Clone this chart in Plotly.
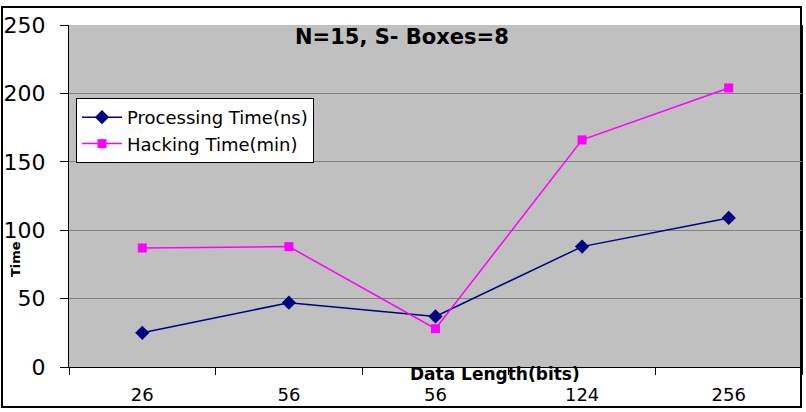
import plotly.graph_objects as go

categories = ["26", "56", "56", "124", "256"]
processing_time = [25, 47, 37, 88, 109]
hacking_time = [87, 88, 28, 166, 204]
y_ticks = [0, 50, 100, 150, 200, 250]

x_pos = list(range(len(categories)))
boundaries = [i - 0.5 for i in range(len(categories) + 1)]

FONT = "DejaVu Sans, Liberation Sans, Arial, sans-serif"

fig = go.Figure()
fig.add_trace(go.Scatter(
    x=x_pos, y=processing_time, name="Processing Time(ns)", mode="lines+markers",
    line=dict(color="#000080", width=1.5),
    marker=dict(symbol="diamond", size=11, color="#000080"),
))
fig.add_trace(go.Scatter(
    x=x_pos, y=hacking_time, name="Hacking Time(min)", mode="lines+markers",
    line=dict(color="#FF00FF", width=1.5),
    marker=dict(symbol="square", size=9, color="#FF00FF"),
))

L, R, T, B = 69, 4, 25, 45
W, H = 806, 412
pw, ph = W - L - R, H - T - B

def px(x):
    return (x - L) / pw

def py(y):
    return (H - B - y) / ph

fig.update_layout(
    width=W, height=H,
    margin=dict(l=L, r=R, t=T, b=B),
    paper_bgcolor="white", plot_bgcolor="#C0C0C0",
    font=dict(family=FONT, color="black"),
    showlegend=True,
    legend=dict(
        x=px(76), y=py(98), xanchor="left", yanchor="top",
        bgcolor="white", bordercolor="black", borderwidth=1,
        font=dict(size=18, family=FONT), tracegroupgap=0,
        itemwidth=40,
    ),
    xaxis=dict(
        range=[-0.5, len(categories) - 0.5],
        tickmode="array", tickvals=x_pos, ticktext=categories,
        ticks="", tickfont=dict(size=18, family=FONT),
        showgrid=False, zeroline=False,
        showline=True, linecolor="black", linewidth=1,
        minor=dict(tickmode="array", tickvals=boundaries, ticks="outside",
                   ticklen=7, tickcolor="black", showgrid=False),
        ticklabelstandoff=11,
    ),
    yaxis=dict(
        range=[0, 250], tickmode="array", tickvals=y_ticks,
        ticks="outside", ticklen=8, tickcolor="black",
        tickfont=dict(size=22, family=FONT),
        showgrid=True, gridcolor="#808080", gridwidth=1,
        zeroline=False, showline=True, linecolor="black", linewidth=1,
        mirror=True, ticklabelstandoff=10,
    ),
    annotations=[
        dict(text="<b>N=15, S- Boxes=8</b>", x=px(402), y=py(37),
             xanchor="center", yanchor="middle",
             xref="paper", yref="paper", showarrow=False,
             font=dict(size=21, family=FONT)),
        dict(text="<b>Data Length(bits)</b>", x=px(495), y=py(374),
             xanchor="center", yanchor="middle",
             xref="paper", yref="paper", showarrow=False,
             font=dict(size=17, family=FONT)),
        dict(text="<b>Time</b>", x=px(15), y=py(259), textangle=-90,
             xanchor="center", yanchor="middle",
             xref="paper", yref="paper", showarrow=False,
             font=dict(size=13, family=FONT)),
    ],
    shapes=[
        dict(type="rect", xref="paper", yref="paper",
             x0=px(2), x1=px(801), y0=py(407), y1=py(7),
             line=dict(color="black", width=2), layer="below"),
    ],
)

fig.write_html("out.html")
